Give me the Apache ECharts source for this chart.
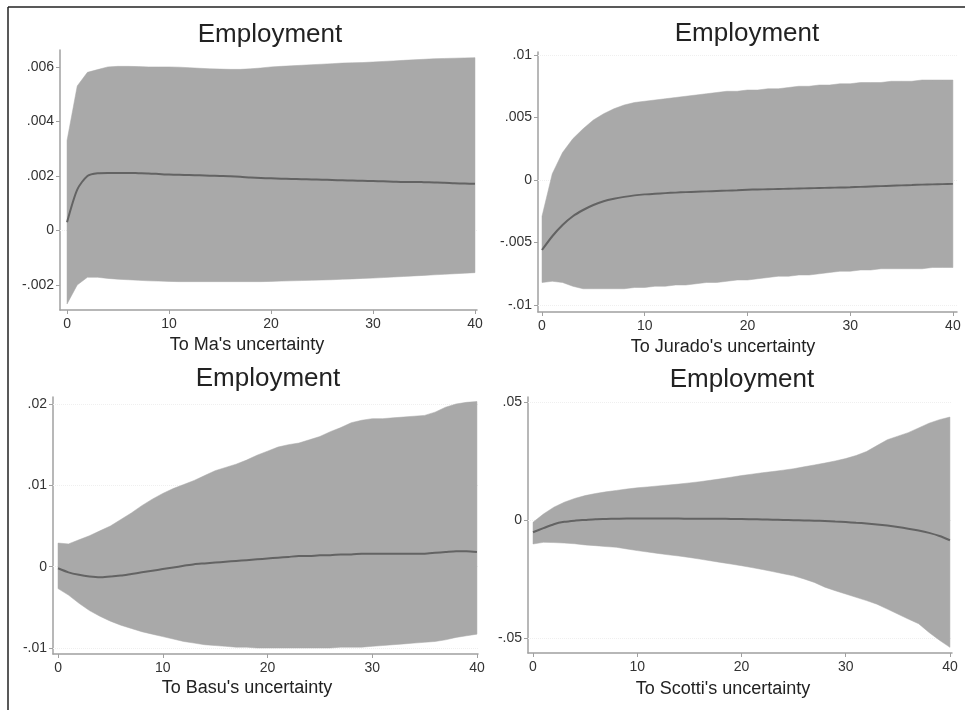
<!DOCTYPE html>
<html>
<head>
<meta charset="utf-8">
<script src="https://cdn.jsdelivr.net/npm/echarts@6/dist/echarts.min.js"></script>
<style>
html,body{margin:0;padding:0;background:#fff;}
#c{width:965px;height:710px;}
</style>
</head>
<body>
<div id="c"></div>
<script>
var horizon = [];
for (var h = 0; h <= 40; h++) horizon.push(h);
var xTicks = [0, 10, 20, 30, 40];

var panelTitles = ["Employment", "Employment", "Employment", "Employment"];
var axisTitles = ["To Ma's uncertainty", "To Jurado's uncertainty", "To Basu's uncertainty", "To Scotti's uncertainty"];

var yTicksMa = [-0.002, 0, 0.002, 0.004, 0.006];
var yTicksJurado = [-0.01, -0.005, 0, 0.005, 0.01];
var yTicksBasu = [-0.01, 0, 0.01, 0.02];
var yTicksScotti = [-0.05, 0, 0.05];

var maMean = [0.0003,0.0015,0.00200,0.00210,0.00211,0.00211,0.00211,0.00210,0.00209,0.00207,0.00205,0.00204,0.00203,0.00202,0.00201,0.00200,0.00199,0.00197,0.00194,0.00192,0.00191,0.00190,0.00189,0.00188,0.00187,0.00186,0.00185,0.00184,0.00183,0.00182,0.00181,0.00180,0.00179,0.00178,0.00178,0.00177,0.00176,0.00175,0.00173,0.00172,0.00171];
var maUpper = [0.0033,0.0053,0.0058,0.0059,0.00600,0.00602,0.00602,0.00601,0.00600,0.00600,0.00600,0.00599,0.00597,0.00595,0.00593,0.00592,0.00591,0.00591,0.00593,0.00596,0.00600,0.00602,0.00604,0.00606,0.00608,0.00610,0.00612,0.00614,0.00615,0.00616,0.00618,0.00620,0.00622,0.00624,0.00626,0.00628,0.00630,0.00631,0.00632,0.00633,0.00634];
var maLower = [-0.0027,-0.0020,-0.00172,-0.00172,-0.00176,-0.00179,-0.00181,-0.00183,-0.00185,-0.00186,-0.00187,-0.00188,-0.00188,-0.00188,-0.00188,-0.00188,-0.00188,-0.00188,-0.00188,-0.00188,-0.00187,-0.00186,-0.00185,-0.00184,-0.00183,-0.00182,-0.00181,-0.00179,-0.00178,-0.00176,-0.00175,-0.00173,-0.00171,-0.00169,-0.00167,-0.00165,-0.00163,-0.00161,-0.00159,-0.00157,-0.00155];

var juMean = [-0.0056,-0.0045,-0.0036,-0.0029,-0.0024,-0.0020,-0.0017,-0.00150,-0.00135,-0.00123,-0.00115,-0.00110,-0.00105,-0.00101,-0.00097,-0.00094,-0.00091,-0.00088,-0.00085,-0.00082,-0.00078,-0.00076,-0.00074,-0.00072,-0.00070,-0.00068,-0.00066,-0.00064,-0.00062,-0.00060,-0.00058,-0.00055,-0.00052,-0.00049,-0.00046,-0.00043,-0.00040,-0.00037,-0.00035,-0.00033,-0.00031];
var juUpper = [-0.0029,0.0005,0.0022,0.0033,0.0041,0.0048,0.0053,0.0057,0.0060,0.0062,0.0063,0.0064,0.0065,0.0066,0.0067,0.0068,0.0069,0.0070,0.0071,0.0071,0.0072,0.0072,0.0073,0.0073,0.0074,0.0075,0.0075,0.0076,0.0076,0.0077,0.0077,0.0078,0.0078,0.0078,0.0079,0.0079,0.0079,0.0080,0.0080,0.0080,0.0080];
var juLower = [-0.0082,-0.0081,-0.0082,-0.0085,-0.0087,-0.0087,-0.0087,-0.0087,-0.0087,-0.0086,-0.0086,-0.0085,-0.0085,-0.0084,-0.0084,-0.0083,-0.0082,-0.0082,-0.0081,-0.0080,-0.0080,-0.0079,-0.0078,-0.0077,-0.0077,-0.0076,-0.0076,-0.0075,-0.0074,-0.0073,-0.0073,-0.0072,-0.0072,-0.0071,-0.0071,-0.0071,-0.0071,-0.0071,-0.0070,-0.0070,-0.0070];

var baMean = [-0.0002,-0.0007,-0.0010,-0.0012,-0.0013,-0.0012,-0.0011,-0.0009,-0.0007,-0.0005,-0.0003,-0.0001,0.0001,0.0003,0.0004,0.0005,0.0006,0.0007,0.0008,0.0009,0.0010,0.0011,0.0012,0.0013,0.0013,0.0014,0.0014,0.0015,0.0015,0.0016,0.0016,0.0016,0.0016,0.0016,0.0016,0.0016,0.0017,0.0018,0.0019,0.0019,0.0018];
var baUpper = [0.0029,0.0028,0.0033,0.0038,0.0044,0.0050,0.0058,0.0066,0.0075,0.0083,0.0090,0.0096,0.0101,0.0106,0.0112,0.0118,0.0122,0.0126,0.0131,0.0137,0.0142,0.0147,0.0150,0.0152,0.0156,0.0160,0.0166,0.0171,0.0177,0.0180,0.0182,0.0182,0.0183,0.0184,0.0185,0.0186,0.0190,0.0196,0.0200,0.0202,0.0203];
var baLower = [-0.0027,-0.0035,-0.0045,-0.0054,-0.0061,-0.0067,-0.0072,-0.0076,-0.0080,-0.0083,-0.0086,-0.0089,-0.0092,-0.0094,-0.0096,-0.0097,-0.0098,-0.0099,-0.0099,-0.0100,-0.0100,-0.0100,-0.0100,-0.0100,-0.0100,-0.0100,-0.0100,-0.0099,-0.0099,-0.0099,-0.0098,-0.0097,-0.0096,-0.0095,-0.0094,-0.0093,-0.0092,-0.0090,-0.0087,-0.0085,-0.0083];

var scMean = [-0.0052,-0.0035,-0.0018,-0.0008,-0.0003,0.0000,0.0003,0.0004,0.0005,0.0006,0.0006,0.0006,0.0006,0.0006,0.0006,0.0005,0.0005,0.0005,0.0005,0.0004,0.0004,0.0003,0.0002,0.0001,0.0000,-0.0001,-0.0002,-0.0003,-0.0005,-0.0007,-0.0009,-0.0012,-0.0015,-0.0019,-0.0024,-0.0030,-0.0037,-0.0045,-0.0055,-0.0068,-0.0086];
var scUpper = [-0.0010,0.0025,0.0054,0.0075,0.0091,0.0103,0.0112,0.0119,0.0125,0.0131,0.0136,0.0140,0.0144,0.0148,0.0152,0.0157,0.0162,0.0168,0.0174,0.0181,0.0188,0.0194,0.0200,0.0205,0.0211,0.0217,0.0225,0.0233,0.0241,0.0250,0.0260,0.0273,0.0290,0.0315,0.0340,0.0355,0.0370,0.0390,0.0410,0.0425,0.0436];
var scLower = [-0.0102,-0.0095,-0.0096,-0.0098,-0.0101,-0.0106,-0.0109,-0.0113,-0.0116,-0.0123,-0.0130,-0.0136,-0.0142,-0.0148,-0.0153,-0.0159,-0.0166,-0.0173,-0.0180,-0.0187,-0.0194,-0.0202,-0.0210,-0.0219,-0.0228,-0.0237,-0.0250,-0.0265,-0.0285,-0.0300,-0.0314,-0.0328,-0.0342,-0.0357,-0.0378,-0.0399,-0.0420,-0.0440,-0.0477,-0.0510,-0.0540];

var panels = [
  {mean: maMean, up: maUpper, lo: maLower, yTicks: yTicksMa},
  {mean: juMean, up: juUpper, lo: juLower, yTicks: yTicksJurado},
  {mean: baMean, up: baUpper, lo: baLower, yTicks: yTicksBasu},
  {mean: scMean, up: scUpper, lo: scLower, yTicks: yTicksScotti}
];

// layout (pixels)
var layout = [
  {left: 60,  top: 50,  width: 417, height: 260, xmin: -0.69, xmax: 40.2, ymin: -0.00292, ymax: 0.00662, tx: 270, ty: 22, ax: 247, ay: 336},
  {left: 538, top: 52,  width: 419, height: 260, xmin: -0.39, xmax: 40.4, ymin: -0.01056, ymax: 0.01024, tx: 747, ty: 21, ax: 723, ay: 338},
  {left: 53,  top: 397, width: 425, height: 257, xmin: -0.48, xmax: 40.1, ymin: -0.01074, ymax: 0.02086, tx: 268, ty: 366, ax: 247, ay: 679},
  {left: 528, top: 397, width: 424, height: 256, xmin: -0.48, xmax: 40.2, ymin: -0.0564, ymax: 0.0521, tx: 742, ty: 367, ax: 723, ay: 680}
];

function fmt(v) {
  if (v === 0) return '0';
  return String(v).replace('0.', '.');
}

var axisGray = '#a0a0a0';
var textColor = '#333';
var font = 'Liberation Sans, Arial, sans-serif';

function bandRenderer(p) {
  return function (params, api) {
    if (params.dataIndex !== 0) return null;
    var pts = [];
    var k;
    for (k = 0; k < horizon.length; k++) pts.push(api.coord([horizon[k], p.up[k]]));
    for (k = horizon.length - 1; k >= 0; k--) pts.push(api.coord([horizon[k], p.lo[k]]));
    return {
      type: 'polygon',
      shape: {points: pts},
      style: {fill: '#a9a9a9', stroke: '#a9a9a9', lineWidth: 0.5, lineJoin: 'round'}
    };
  };
}

var grids = [], xAxes = [], yAxes = [], series = [], titles = [];
panels.forEach(function (p, i) {
  var L = layout[i];
  grids.push({left: L.left, top: L.top, width: L.width, height: L.height, containLabel: false});
  xAxes.push({
    type: 'value', gridIndex: i, min: L.xmin, max: L.xmax,
    axisLine: {show: true, onZero: false, lineStyle: {color: axisGray, width: 1.5}},
    axisTick: {show: true, length: 4, customValues: xTicks, lineStyle: {color: axisGray}},
    axisLabel: {customValues: xTicks, margin: 7, color: textColor, fontSize: 14, fontFamily: font},
    splitLine: {show: false}
  });
  yAxes.push({
    type: 'value', gridIndex: i, min: L.ymin, max: L.ymax,
    axisLine: {show: true, onZero: false, lineStyle: {color: axisGray, width: 1.5}},
    axisTick: {show: true, length: 4, customValues: p.yTicks, lineStyle: {color: axisGray}},
    axisLabel: {customValues: p.yTicks, margin: 6, color: textColor, fontSize: 14, fontFamily: font, formatter: fmt},
    splitLine: {show: false}
  });
  var bandData = horizon.map(function (h, k) { return [h, p.lo[k], p.up[k]]; });
  var meanData = horizon.map(function (h, k) { return [h, p.mean[k]]; });
  series.push({
    type: 'custom', xAxisIndex: i, yAxisIndex: i, data: bandData,
    encode: {x: 0, y: [1, 2]}, renderItem: bandRenderer(p), silent: true, z: 3,
    markLine: {
      silent: true, symbol: 'none', label: {show: false}, z: 1,
      lineStyle: {color: '#efefef', type: 'dotted', width: 1},
      data: p.yTicks.map(function (t) { return {yAxis: t}; })
    }
  });
  series.push({
    type: 'line', xAxisIndex: i, yAxisIndex: i, data: meanData, smooth: 0.25,
    symbol: 'none', lineStyle: {color: '#636363', width: 2}, silent: true, z: 4
  });
  titles.push({
    text: panelTitles[i], left: L.tx, top: L.ty, textAlign: 'center', padding: 0,
    textStyle: {fontSize: 26, fontWeight: 'normal', color: '#222', fontFamily: font}
  });
  titles.push({
    text: axisTitles[i], left: L.ax, top: L.ay, textAlign: 'center', padding: 0,
    textStyle: {fontSize: 18, fontWeight: 'normal', color: '#222', fontFamily: font}
  });
});

var chart = echarts.init(document.getElementById('c'));
chart.setOption({
  animation: false,
  backgroundColor: '#ffffff',
  title: titles,
  grid: grids,
  xAxis: xAxes,
  yAxis: yAxes,
  series: series,
  graphic: [
    {type: 'line', shape: {x1: 8, y1: 7, x2: 965, y2: 7}, style: {stroke: '#222', lineWidth: 1.5}},
    {type: 'line', shape: {x1: 8, y1: 7, x2: 8, y2: 710}, style: {stroke: '#222', lineWidth: 1.5}}
  ]
});
</script>
</body>
</html>
